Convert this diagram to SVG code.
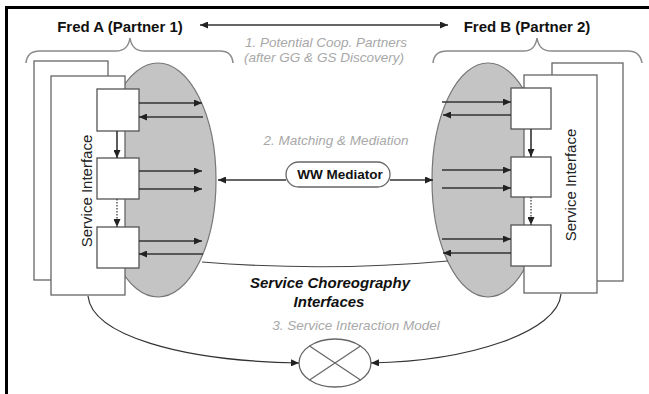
<svg xmlns="http://www.w3.org/2000/svg" width="649" height="394" viewBox="0 0 649 394">
  <defs>
    <marker id="arrow" viewBox="0 0 8 7" refX="8" refY="3.5" markerWidth="8" markerHeight="7" markerUnits="userSpaceOnUse" orient="auto-start-reverse">
      <path d="M0,0 L8,3.5 L0,7 z" fill="#222"/>
    </marker>
    <style>
      .frame { fill: none; stroke: #000; stroke-width: 3; }
      .page { fill: #fff; stroke: #666; stroke-width: 1.3; }
      .lobe { fill: #c4c4c4; stroke: #777; stroke-width: 1.2; }
      .box { fill: #fff; stroke: #555; stroke-width: 1.3; }
      .brace { fill: none; stroke: #8a8a8a; stroke-width: 1.5; }
      .link { fill: none; stroke: #333; stroke-width: 1.6; marker-end: url(#arrow); }
      .thin { fill: none; stroke: #444; stroke-width: 1.1; }
      .dotted { stroke-dasharray: 1.5 1.5; stroke-width: 1.2; }
      .title { font-family: "Liberation Sans", Arial, sans-serif; font-weight: bold; font-size: 15px; fill: #111; }
      .note { font-family: "Liberation Sans", Arial, sans-serif; font-style: italic; font-size: 13.5px; fill: #a8a8a8; }
      .side { font-family: "Liberation Sans", Arial, sans-serif; font-size: 15px; fill: #222; }
      .bold { font-family: "Liberation Sans", Arial, sans-serif; font-weight: bold; font-size: 13.5px; fill: #111; }
      .boldit { font-family: "Liberation Sans", Arial, sans-serif; font-weight: bold; font-style: italic; font-size: 15px; fill: #111; }
    </style>
  </defs>

  <rect width="649" height="394" fill="#fff"/>
  <!-- frame: left and top edges only -->
  <path class="frame" d="M6.5,394 V7.5 H649"/>

  <!-- partner headings -->
  <g id="fredA-label">
    <text class="title" x="120" y="32" text-anchor="middle">Fred A (Partner 1)</text>
    <path class="brace" d="M26,63 Q27,51 40,51 H116 Q128,51 130,38 Q132,51 144,51 H220 Q232,51 233,63"/>
  </g>
  <g id="fredB-label">
    <text class="title" x="527" y="32" text-anchor="middle">Fred B (Partner 2)</text>
    <path class="brace" d="M433,63 Q434,51 447,51 H524 Q535,51 537,38 Q539,51 551,51 H628 Q640,51 642,63"/>
  </g>

  <!-- annotations -->
  <text class="note" x="326" y="47" text-anchor="middle">1. Potential Coop. Partners</text>
  <text class="note" x="324" y="62" text-anchor="middle">(after GG &amp; GS Discovery)</text>
  <text class="note" x="336" y="145" text-anchor="middle">2. Matching &amp; Mediation</text>
  <text class="note" x="356" y="330" text-anchor="middle">3. Service Interaction Model</text>

  <!-- partner 1 -->
  <g id="partnerA">
    <ellipse class="lobe" cx="158" cy="180" rx="58" ry="117"/>
    <rect class="page" x="34" y="61" width="74" height="219"/>
    <rect class="page" x="51" y="76" width="74" height="219"/>
    <text class="side" transform="translate(92,191) rotate(-90)" text-anchor="middle">Service Interface</text>
    <rect id="a1" class="box" x="97" y="89" width="42" height="42"/>
    <rect id="a2" class="box" x="97" y="158" width="42" height="41"/>
    <rect id="a3" class="box" x="97" y="227" width="42" height="41"/>
  </g>

  <!-- partner 2 -->
  <g id="partnerB">
    <ellipse class="lobe" cx="488" cy="180" rx="56" ry="117"/>
    <rect class="page" x="552" y="63" width="71" height="218"/>
    <rect class="page" x="524" y="75" width="73" height="218"/>
    <text class="side" transform="translate(576,185) rotate(-90)" text-anchor="middle">Service Interface</text>
    <rect id="b1" class="box" x="511" y="88" width="40" height="41"/>
    <rect id="b2" class="box" x="511" y="157" width="40" height="40"/>
    <rect id="b3" class="box" x="511" y="225" width="40" height="41"/>
  </g>

  <!-- mediator -->
  <g id="mediator">
    <rect x="286" y="162" width="104" height="25" rx="12.5" fill="#fff" stroke="#666" stroke-width="1.3"/>
    <text class="bold" x="340" y="179" text-anchor="middle">WW Mediator</text>
  </g>

  <!-- interaction model -->
  <g id="interaction-model">
    <ellipse cx="335" cy="363" rx="36" ry="24" fill="#fff" stroke="#666" stroke-width="1.3"/>
    <path d="M309.5,346 L360.5,380 M360.5,346 L309.5,380" stroke="#666" stroke-width="1.2"/>
  </g>

  <!-- choreography caption -->
  <g id="choreography-label">
    <text class="boldit" x="330" y="288" text-anchor="middle">Service Choreography</text>
    <text class="boldit" x="329" y="307" text-anchor="middle">Interfaces</text>
  </g>

  <g id="connectors">
    <!-- partners discovery -->
    <line class="link" x1="324" y1="25" x2="448" y2="25"/>
    <line class="link" x1="324" y1="25" x2="200" y2="25"/>

    <!-- partner 1 message flows -->
    <line class="link" x1="139" y1="103" x2="202" y2="103"/>
    <line class="link" x1="203" y1="117" x2="139" y2="117"/>
    <line class="link" x1="139" y1="171" x2="202" y2="171"/>
    <line class="link" x1="139" y1="189" x2="202" y2="189"/>
    <line class="link" x1="139" y1="241" x2="202" y2="241"/>
    <line class="link" x1="203" y1="254" x2="139" y2="254"/>
    <line class="link" x1="117" y1="131" x2="117" y2="158"/>
    <line class="link dotted" x1="117" y1="199" x2="117" y2="227"/>

    <!-- partner 2 message flows -->
    <line class="link" x1="442" y1="102" x2="511" y2="102"/>
    <line class="link" x1="511" y1="115" x2="443" y2="115"/>
    <line class="link" x1="442" y1="170" x2="511" y2="170"/>
    <line class="link" x1="442" y1="188" x2="511" y2="188"/>
    <line class="link" x1="442" y1="239" x2="511" y2="239"/>
    <line class="link" x1="511" y1="253" x2="443" y2="253"/>
    <line class="link" x1="531" y1="129" x2="531" y2="157"/>
    <line class="link dotted" x1="531" y1="197" x2="531" y2="225"/>

    <!-- mediation -->
    <line class="link" x1="286" y1="180" x2="218" y2="180"/>
    <line class="link" x1="390" y1="180" x2="433" y2="180"/>

    <!-- choreography boundary -->
    <path class="thin" d="M202,262 Q325,272 448,261"/>

    <!-- interaction model -->
    <path class="link" style="stroke-width:1.2" d="M88,296 C92,335 180,361 299,363"/>
    <path class="link" style="stroke-width:1.2" d="M561,294 C558,332 470,361 371,363"/>
  </g>
</svg>
